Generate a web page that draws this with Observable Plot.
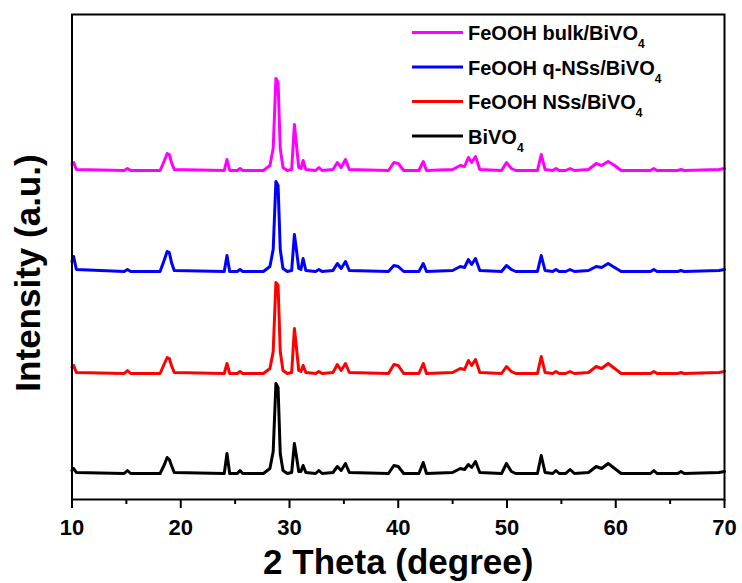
<!DOCTYPE html>
<html>
<head>
<meta charset="utf-8">
<script src="https://cdn.jsdelivr.net/npm/d3@7"></script>
<script src="https://cdn.jsdelivr.net/npm/@observablehq/plot@0.6"></script>
<style>
  html, body { margin: 0; padding: 0; background: #fff; }
  #chart { width: 742px; height: 583px; }
</style>
</head>
<body>
<div id="chart"></div>
<script>
// XRD patterns of BiVO4 and the three FeOOH/BiVO4 photoanodes.
// Vertices of each diffraction trace (2θ in degrees), shared by all samples.
const twoTheta = [
  10.0, 10.15, 10.4, 14.8, 15.1, 15.4, 18.1, 18.5, 18.75, 18.95,
  19.15, 19.4, 24.0, 24.25, 24.5, 25.2, 25.45, 25.7, 27.6, 28.2,
  28.5, 28.75, 28.95, 29.15, 29.4, 29.8, 30.2, 30.45, 30.6, 30.85,
  31.05, 31.25, 31.5, 32.4, 32.7, 33.0, 34.0, 34.4, 34.75, 35.15,
  35.5, 39.1, 39.6, 40.0, 40.5, 41.9, 42.3, 42.6, 45.0, 45.7,
  46.1, 46.45, 46.75, 47.1, 47.5, 49.5, 49.95, 50.4, 50.8, 52.8,
  53.15, 53.5, 54.2, 54.5, 54.8, 55.4, 55.8, 56.2, 57.5, 58.2,
  58.7, 59.3, 59.9, 60.5, 63.2, 63.5, 63.8, 65.7, 66.0, 66.3,
  69.5, 70.0
];

// Intensity above each trace's own baseline (a.u.)
const bivo4 = [
  3, 5, 1, 0, 3, 0, 0, 9, 16, 14,
  8, 1, 0, 20, 0, 0, 3, 0, 0, 5,
  22, 90, 86, 20, 3, 0, 1, 30, 20, 2,
  2, 8, 1, 0, 3, 0, 1, 7, 3, 10,
  1, 0, 8, 7, 0, 0, 11, 0, 1, 5,
  4, 9, 6, 12, 1, 0, 10, 2, 0, 0,
  18, 1, 0, 3, 0, 0, 4, 0, 1, 7,
  5, 10, 5, 0, 0, 3, 0, 0, 2, 0,
  1, 2
];
const feoohNSs = [
  6, 8, 1, 0, 3, 0, 0, 10, 16, 15,
  8, 1, 0, 10, 0, 0, 2, 0, 0, 5,
  22, 91, 88, 22, 3, 0, 1, 45, 30, 3,
  2, 8, 1, 0, 2, 0, 1, 9, 3, 10,
  1, 0, 9, 8, 0, 0, 10, 0, 1, 5,
  4, 13, 8, 14, 1, 0, 7, 2, 0, 0,
  17, 1, 0, 2, 0, 0, 2, 0, 1, 7,
  5, 10, 5, 0, 0, 2, 0, 0, 1, 0,
  1, 2
];
const feoohQNSs = [
  10, 15, 2, 0, 2, 0, 0, 12, 20, 19,
  9, 1, 0, 16, 0, 0, 2, 0, 0, 5,
  22, 90, 86, 22, 3, 0, 1, 37, 25, 3,
  2, 13, 1, 0, 2, 0, 1, 8, 3, 10,
  1, 0, 6, 5, 0, 0, 8, 0, 1, 5,
  4, 12, 7, 13, 1, 0, 6, 2, 0, 0,
  16, 1, 0, 2, 0, 0, 2, 0, 1, 5,
  4, 8, 4, 0, 0, 2, 0, 0, 1, 0,
  1, 2
];
const feoohBulk = [
  6, 8, 1, 0, 2, 0, 0, 10, 17, 16,
  8, 1, 0, 11, 0, 0, 2, 0, 0, 5,
  22, 92, 88, 22, 3, 0, 1, 46, 30, 3,
  2, 10, 1, 0, 3, 0, 1, 8, 3, 11,
  1, 0, 8, 7, 0, 0, 9, 0, 1, 5,
  4, 13, 8, 14, 1, 0, 8, 2, 0, 0,
  16, 1, 0, 2, 0, 0, 2, 0, 1, 7,
  5, 9, 5, 0, 0, 2, 0, 0, 1, 0,
  1, 2
];

// Legend order (top to bottom) and stacking offsets of each trace
const samples = ["FeOOH bulk/BiVO", "FeOOH q-NSs/BiVO", "FeOOH NSs/BiVO", "BiVO"];
const traces = [feoohBulk, feoohQNSs, feoohNSs, bivo4];
const offsets = [329, 228, 126, 26];
const colors = ["#ff00ff", "#0000ff", "#ff0000", "#000000"];

const majorTicks = [10, 20, 30, 40, 50, 60, 70];
const minorTicks = [15, 25, 35, 45, 55, 65];

const rows = [];
samples.forEach((name, i) => {
  twoTheta.forEach((t, j) => {
    rows.push({ sample: name, theta: t, intensity: offsets[i] + traces[i][j] });
  });
});

const font = "'Liberation Sans', Arial, Helvetica, sans-serif";

const plot = Plot.plot({
  width: 742,
  height: 583,
  marginLeft: 71.5,
  marginRight: 18,
  marginTop: 14,
  marginBottom: 84,
  style: { fontFamily: font, fontWeight: "bold", background: "#fff", color: "#000", overflow: "visible" },
  x: { domain: [10, 70] },
  y: { domain: [0, 485], axis: null },
  color: { domain: samples, range: colors },
  marks: [
    Plot.line(rows, {
      x: "theta", y: "intensity", z: "sample", stroke: "sample",
      strokeWidth: 3, strokeLinejoin: "round", curve: "linear"
    }),
    Plot.axisX({
      ticks: majorTicks, tickSize: 9, tickPadding: 11, strokeWidth: 2,
      fontSize: 22, fontWeight: "bold", label: null, tickFormat: d => String(d)
    }),
    Plot.axisX({ ticks: minorTicks, tickSize: 5, strokeWidth: 2, text: null, label: null }),
    Plot.frame({ stroke: "#000", strokeWidth: 2 }),
    Plot.text(["2 Theta (degree)"], {
      frameAnchor: "bottom", dy: 63, fontSize: 35, fontWeight: "bold", lineAnchor: "middle", textAnchor: "middle"
    }),
    Plot.text(["Intensity (a.u.)"], {
      frameAnchor: "left", dx: -43, dy: 16, rotate: -90, fontSize: 35, fontWeight: "bold",
      lineAnchor: "middle", textAnchor: "middle"
    })
  ]
});

// Legend inside the frame, with subscript 4 on BiVO4
const svg = d3.select(plot);
const legend = svg.append("g")
  .attr("font-family", font).attr("font-weight", "bold").attr("text-anchor", "start");
samples.forEach((name, i) => {
  const y = 32.5 + i * 34.5;
  legend.append("line")
    .attr("x1", 412).attr("x2", 463).attr("y1", y).attr("y2", y)
    .attr("stroke", colors[i]).attr("stroke-width", 3);
  const t = legend.append("text").attr("x", 468).attr("y", y + 7.5)
    .attr("font-size", 20).attr("fill", "#000");
  t.append("tspan").text(name);
  t.append("tspan").attr("font-size", 12).attr("dy", 8).text("4");
});

document.getElementById("chart").appendChild(plot);
</script>
</body>
</html>
